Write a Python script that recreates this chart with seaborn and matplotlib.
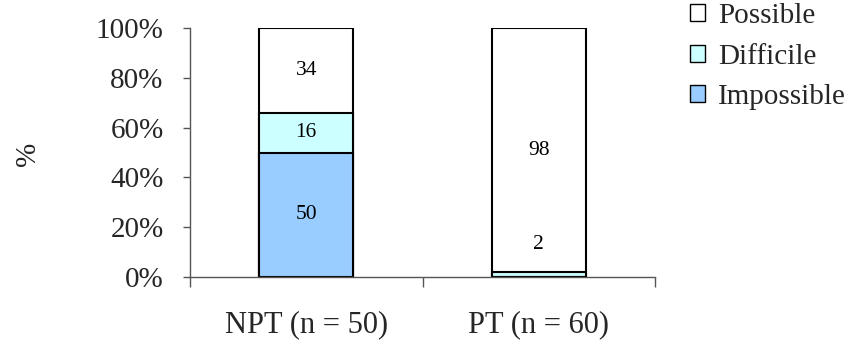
import matplotlib
matplotlib.use("Agg")
import matplotlib.pyplot as plt
from matplotlib.patches import Patch
import seaborn as sns
import pandas as pd
import numpy as np

categories = ["NPT (n = 50)", "PT (n = 60)"]
series = ["Impossible", "Difficile", "Possible"]
impossible = [50, 0]
difficile = [16, 2]
possible = [34, 98]
ytick_vals = [0, 20, 40, 60, 80, 100]
colors = {"Impossible": "#99ccff", "Difficile": "#ccffff", "Possible": "#ffffff"}

sns.set_theme(style="white")
plt.rcParams["font.family"] = ["Liberation Serif", "DejaVu Serif"]

W, H = 852, 341
fig = plt.figure(figsize=(W / 100, H / 100), dpi=100)
ax = fig.add_axes([190 / W, (H - 277) / H, 465 / W, 249 / H])

vals = {"Impossible": impossible, "Difficile": difficile, "Possible": possible}
cum = np.zeros(len(categories))
cums = {}
for s in series:
    cum = cum + np.array(vals[s])
    cums[s] = cum.copy()

for s in reversed(series):
    df = pd.DataFrame({"cat": categories, "val": cums[s]})
    sns.barplot(data=df, x="cat", y="val", color=colors[s], width=0.405,
                edgecolor="black", linewidth=1.5, saturation=1, ax=ax)

# value labels
bottoms = np.zeros(len(categories))
for s in series:
    v = np.array(vals[s])
    for i, val in enumerate(v):
        if val > 0:
            y = bottoms[i] + val / 2
            if val < 5:
                y = bottoms[i] + val + 11
            ax.text(i, y, str(val), ha="center", va="center", fontsize=15.5, color="black")
    bottoms += v

ax.set_ylim(0, 100)
ax.set_xlim(-0.5, 1.5)
ax.set_yticks(ytick_vals)
ax.set_yticklabels([f"{t}%" for t in ytick_vals], fontsize=21)
ax.set_xticks([0, 1])
ax.set_xticklabels(categories, fontsize=22)
ax.tick_params(axis="x", length=0, pad=24)
ax.tick_params(axis="y", direction="out", length=5, width=1, color="#555555", left=True, pad=14)
ax.set_xticks([-0.5, 0.5, 1.5], minor=True)
ax.tick_params(axis="x", which="minor", direction="out", length=7.5, width=1, color="#555555", bottom=True)
for sp in ["top", "right"]:
    ax.spines[sp].set_visible(False)
for sp in ["left", "bottom"]:
    ax.spines[sp].set_color("#555555")
    ax.spines[sp].set_linewidth(1)
ax.set_xlabel("")
ax.set_ylabel("%", fontsize=21)
ax.yaxis.set_label_coords((41 - 190) / 465, 0.494)

handles = [Patch(facecolor=colors[s], edgecolor="black", linewidth=1) for s in reversed(series)]
leg = fig.legend(handles, list(reversed(series)), loc="upper left",
                 bbox_to_anchor=(690 / W, 1 - 3 / H),
                 frameon=False, fontsize=21, handlelength=0.52, handleheight=0.52,
                 handletextpad=0.45, labelspacing=0.5, borderpad=0, borderaxespad=0)

fig.savefig("out.png", dpi=100)
